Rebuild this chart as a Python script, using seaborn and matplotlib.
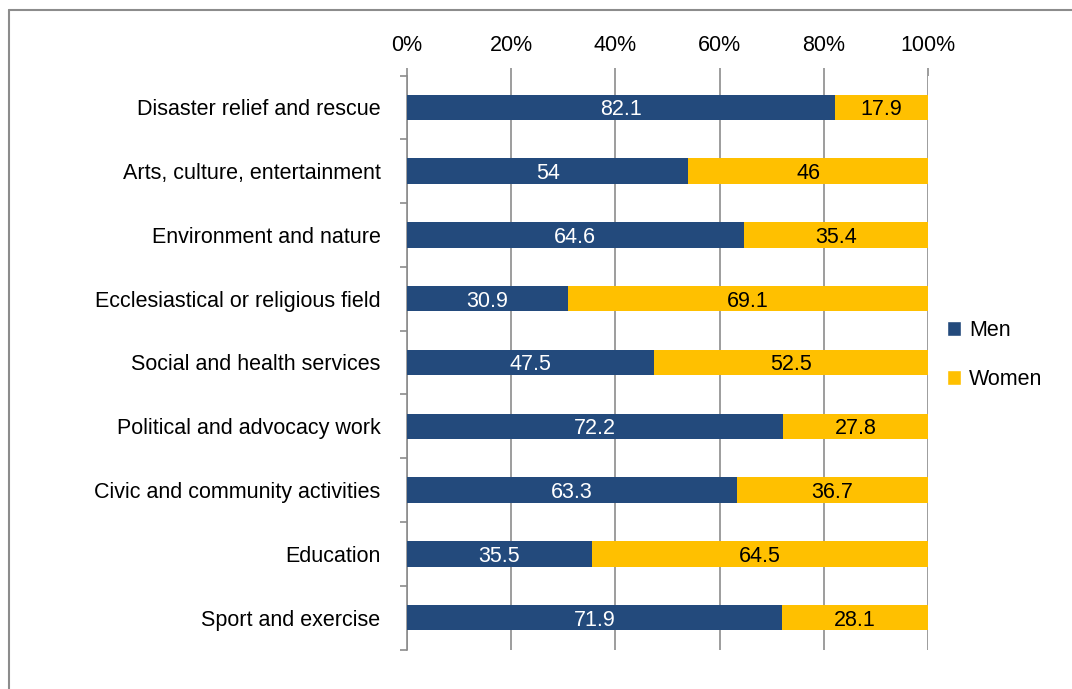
import matplotlib
matplotlib.use("Agg")
import matplotlib.pyplot as plt
from matplotlib.lines import Line2D
from matplotlib.patches import Patch
import seaborn as sns
import numpy as np
import pandas as pd

categories = [
    "Disaster relief and rescue",
    "Arts, culture, entertainment",
    "Environment and nature",
    "Ecclesiastical or religious field",
    "Social and health services",
    "Political and advocacy work",
    "Civic and community activities",
    "Education",
    "Sport and exercise",
]
men = [82.1, 54, 64.6, 30.9, 47.5, 72.2, 63.3, 35.5, 71.9]
women = [17.9, 46, 35.4, 69.1, 52.5, 27.8, 36.7, 64.5, 28.1]
x_ticks = [0, 20, 40, 60, 80, 100]
x_tick_labels = ["0%", "20%", "40%", "60%", "80%", "100%"]

MEN_C = "#234A7C"
WOMEN_C = "#FFC000"
GRID_C = "#8C8C8C"

sns.set_theme(style="white")
plt.rcParams["font.family"] = ["Liberation Sans", "DejaVu Sans"]
plt.rcParams["text.color"] = "black"
plt.rcParams["xtick.labelcolor"] = "black"
plt.rcParams["ytick.labelcolor"] = "black"
FS = 15.5

df = pd.DataFrame({"cat": categories, "men": men, "women": women})
df["total"] = df["men"] + df["women"]

fig = plt.figure(figsize=(10.72, 6.89), dpi=100)
ax = fig.add_axes([407 / 1072, 1 - 649.5 / 689, (928 - 407) / 1072, (649.5 - 75.5) / 689])

sns.barplot(data=df, x="total", y="cat", color=WOMEN_C, orient="h", width=0.4,
            saturation=1, ax=ax, edgecolor="none", zorder=3)
sns.barplot(data=df, x="men", y="cat", color=MEN_C, orient="h", width=0.4,
            saturation=1, ax=ax, edgecolor="none", zorder=3)

for i, (m, w) in enumerate(zip(men, women)):
    ax.text(m / 2, i, f"{m:g}", ha="center", va="center_baseline", color="white",
            fontsize=FS, zorder=4)
    ax.text(m + w / 2, i, f"{w:g}", ha="center", va="center_baseline", color="black",
            fontsize=FS, zorder=4)

ax.set_xlim(0, 100)
ax.set_ylim(len(categories) - 0.5, -0.5)
ax.set_xticks(x_ticks)
ax.set_xticklabels(x_tick_labels, fontsize=FS)
ax.xaxis.tick_top()
ax.xaxis.set_label_position("top")
ax.tick_params(axis="x", which="major", top=True, bottom=False, length=6,
               color=GRID_C, width=1.2, pad=8, labelsize=FS, direction="out",
               labelcolor="black")
ax.grid(axis="x", color=GRID_C, linewidth=1.2, zorder=0)
ax.set_axisbelow(True)

ax.set_yticks(range(len(categories)))
ax.set_yticklabels(categories, fontsize=FS)
ax.set_yticks(np.arange(-0.5, len(categories), 1), minor=True)
ax.tick_params(axis="y", which="major", length=0, pad=19, labelcolor="black")
ax.tick_params(axis="y", which="minor", left=True, length=5, color=GRID_C, width=1.2)
ax.set_xlabel("")
ax.set_ylabel("")

for s in ["top", "right", "bottom"]:
    ax.spines[s].set_visible(False)
ax.spines["left"].set_color(GRID_C)
ax.spines["left"].set_linewidth(1.2)

handles = [Patch(facecolor=MEN_C, label="Men"), Patch(facecolor=WOMEN_C, label="Women")]
leg = fig.legend(handles=handles, loc="center left", bbox_to_anchor=(938 / 1072, 1 - 355 / 689),
                 frameon=False, fontsize=FS, handlelength=0.65, handleheight=0.65,
                 handletextpad=0.4, labelspacing=1.3, borderaxespad=0)
for t in leg.get_texts():
    t.set_color("black")

fx = 8.5 / 1072
fy = 1 - 9.5 / 689
fig.add_artist(Line2D([fx, fx], [0, fy], transform=fig.transFigure, color=GRID_C, lw=1.5))
fig.add_artist(Line2D([fx, 1], [fy, fy], transform=fig.transFigure, color=GRID_C, lw=1.5))

fig.savefig("out.png", dpi=100)
